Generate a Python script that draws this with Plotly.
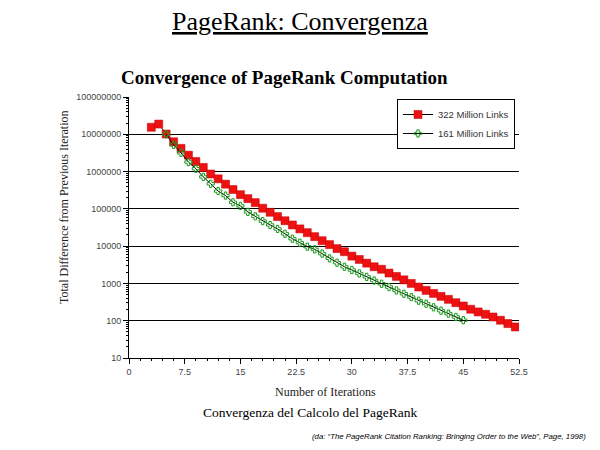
import plotly.graph_objects as go

# --- data ---
iter_322 = list(range(3, 53))
diff_322 = [1.54e7, 1.88e7, 1.02e7, 6.3e6, 4.2e6, 2.75e6, 1.86e6, 1.29e6, 8.6e5, 6.4e5,
            4.6e5, 3.3e5, 2.4e5, 1.88e5, 1.47e5, 1.04e5, 8.1e4, 6.2e4, 4.8e4, 3.7e4,
            2.9e4, 2.3e4, 1.8e4, 1.4e4, 1.1e4, 8.6e3, 7.1e3, 5.4e3, 4.4e3, 3.5e3,
            2.8e3, 2.4e3, 1.9e3, 1.54e3, 1.25e3, 1.0e3, 800, 650, 540, 450,
            374, 304, 248, 203, 172, 149, 126, 103, 84, 68]

iter_161 = list(range(5, 46))
diff_161 = [1.0e7, 5.2e6, 3.2e6, 1.8e6, 1.19e6, 7.2e5, 4.7e5, 3.0e5, 2.27e5, 1.5e5,
            1.2e5, 8.3e4, 6.3e4, 4.7e4, 3.7e4, 2.9e4, 2.15e4, 1.58e4, 1.24e4, 9.7e3,
            8.2e3, 6.3e3, 4.7e3, 3.6e3, 2.8e3, 2.3e3, 1.85e3, 1.5e3, 1.2e3, 980,
            800, 650, 530, 430, 344, 286, 229, 186, 155, 126, 103]

y_ticks = [10, 100, 1000, 10000, 100000, 1000000, 10000000, 100000000]
y_labels = [str(v) for v in y_ticks]
x_ticks = [0, 7.5, 15, 22.5, 30, 37.5, 45, 52.5]
x_labels = ["0", "7.5", "15", "22.5", "30", "37.5", "45", "52.5"]

names = ["322 Million Links", "161 Million Links"]

# --- layout geometry (page pixels) ---
W, H = 600, 450
L, R, T, B = 129, 519, 97, 358
pw, ph = R - L, B - T


def px(x):
    return (x - L) / pw


def py(y):
    return (B - y) / ph


fig = go.Figure()
fig.add_trace(go.Scatter(
    x=iter_322, y=diff_322, name=names[0], mode="lines+markers",
    line=dict(color="black", width=1),
    marker=dict(symbol="square", size=8, color="#ee1111",
                line=dict(color="#c00000", width=0.5)),
))
fig.add_trace(go.Scatter(
    x=iter_161, y=diff_161, name=names[1], mode="lines+markers",
    line=dict(color="black", width=1),
    marker=dict(symbol="cross-open", size=6, color="#1a9a1a",
                line=dict(color="#1a9a1a", width=1)),
))

tickfont = dict(family="Liberation Sans, Arial", size=9, color="#444444")
serif = "Liberation Serif, Times New Roman"

fig.update_layout(
    width=W, height=H,
    margin=dict(l=L, r=W - R, t=T, b=H - B, pad=0),
    paper_bgcolor="white", plot_bgcolor="white",
    showlegend=True,
    legend=dict(x=px(515), y=py(99), xanchor="right", yanchor="top",
                bordercolor="black", borderwidth=1, bgcolor="white",
                font=dict(family="Liberation Sans, Arial", size=9.5, color="#333333"),
                itemwidth=30, tracegroupgap=0),
    xaxis=dict(range=[0, 52.5], tickvals=x_ticks, ticktext=x_labels,
               ticks="outside", ticklen=5, tickcolor="black", tickfont=tickfont,
               showline=True, linecolor="black", linewidth=1, showgrid=False,
               zeroline=False,
               minor=dict(ticks="outside", ticklen=2, dtick=1.5, tickcolor="black",
                          showgrid=False)),
    yaxis=dict(type="log", range=[1, 8], tickvals=y_ticks, ticktext=y_labels,
               ticks="outside", ticklen=5, tickcolor="black", tickfont=tickfont,
               showline=True, linecolor="black", linewidth=1,
               showgrid=True, gridcolor="black", gridwidth=1, zeroline=False,
               minor=dict(ticks="outside", ticklen=2, dtick="D1", tickcolor="black",
                          showgrid=False)),
)

ann = [
    dict(text="<u>PageRank: Convergenza</u>", x=px(300), y=py(21),
         font=dict(family=serif, size=26, color="black")),
    dict(text="<b>Convergence of PageRank Computation</b>", x=px(284), y=py(77),
         font=dict(family=serif, size=19, color="black")),
    dict(text="Total Difference from Previous Iteration", x=px(64), y=py(207),
         textangle=-90, font=dict(family=serif, size=12, color="#222222")),
    dict(text="Number of Iterations", x=px(325), y=py(392),
         font=dict(family=serif, size=12, color="#222222")),
    dict(text="Convergenza del Calcolo del PageRank", x=px(310), y=py(412),
         font=dict(family=serif, size=13.5, color="black")),
    dict(text="<i>(da: \u201cThe PageRank Citation Ranking: Bringing Order to the Web\u201d, Page, 1998)</i>",
         x=px(449), y=py(437),
         font=dict(family="Liberation Sans, Arial", size=7.8, color="black")),
]
for a in ann:
    fig.add_annotation(xref="paper", yref="paper", showarrow=False,
                       xanchor="center", yanchor="middle", **a)

# remove the browser's default body margin so the figure sits at the page corner
fig.write_html("out.html", config={"displayModeBar": False},
               post_script="document.body.style.margin='0';")
